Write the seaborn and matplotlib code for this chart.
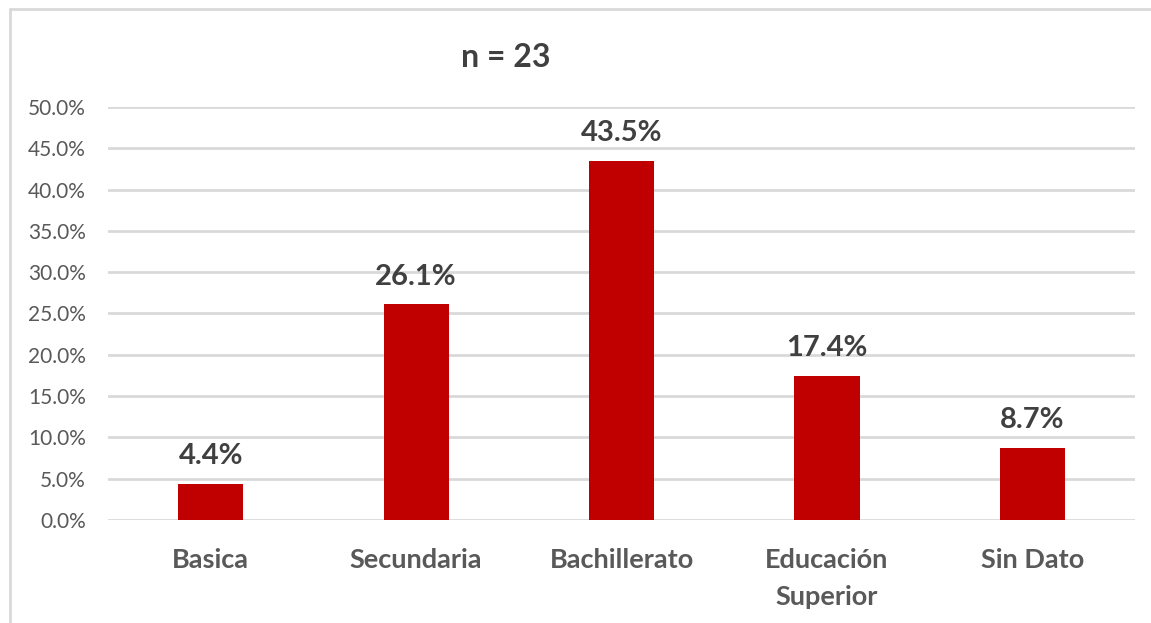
import matplotlib
matplotlib.use("Agg")
import matplotlib.pyplot as plt
import seaborn as sns
import pandas as pd
from matplotlib.lines import Line2D
from matplotlib.ticker import FuncFormatter

# data
categories = ["Basica", "Secundaria", "Bachillerato", "Educación\nSuperior", "Sin Dato"]
values = [4.4, 26.1, 43.5, 17.4, 8.7]
title = "n = 23"

sns.set_theme(style="white")
plt.rcParams['font.family'] = ['Lato', 'DejaVu Sans']

df = pd.DataFrame({'cat': categories, 'val': values})

fig = plt.figure(figsize=(11.51, 6.23), dpi=100)
ax = fig.add_axes([0.0938, 0.1653, 0.8924, 0.6630])

sns.barplot(data=df, x='cat', y='val', ax=ax, color='#C00000', width=0.317,
            saturation=1, edgecolor='none')

ax.set_ylim(0, 50)
ax.set_xlim(-0.5, 4.5)
ax.set_yticks(range(0, 51, 5))
ax.yaxis.set_major_formatter(FuncFormatter(lambda v, p: f"{v:.1f}%"))
ax.grid(axis='y', color='#D9D9D9', linewidth=2)
ax.set_axisbelow(True)
for s in ax.spines.values():
    s.set_visible(False)
ax.set_xlabel('')
ax.set_ylabel('')
ax.tick_params(axis='y', labelsize=15, labelcolor='#595959', length=0, pad=16)
ax.tick_params(axis='x', labelsize=19.5, labelcolor='#595959', length=0, pad=20)
for lbl in ax.get_xticklabels():
    lbl.set_fontweight('bold')
    lbl.set_linespacing(1.65)

# value labels
for i, v in enumerate(values):
    ax.annotate(f"{v:.1f}%", (i, v), xytext=(0, 20), textcoords='offset points',
                ha='center', va='center', fontsize=21, fontweight='bold', color='#404040')

fig.text(0.439, 0.9085, title, ha='center', va='center', fontsize=23,
         fontweight='bold', color='#404040')

# chart frame (partially cut off)
fx = 10 / 1151
fy = 1 - 9 / 623
fig.add_artist(Line2D([fx, fx], [0, fy], transform=fig.transFigure, color='#D9D9D9', lw=2))
fig.add_artist(Line2D([fx, 1], [fy, fy], transform=fig.transFigure, color='#D9D9D9', lw=2))

fig.savefig('out.png', dpi=100, facecolor='white')
